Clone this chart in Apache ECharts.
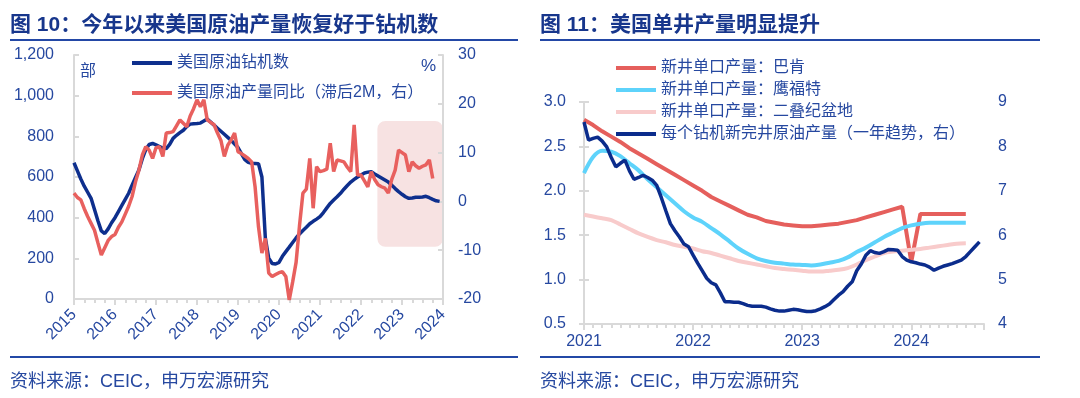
<!DOCTYPE html>
<html>
<head>
<meta charset="utf-8">
<script src="https://cdn.jsdelivr.net/npm/echarts@6/dist/echarts.min.js"></script>
<style>
  html, body { margin: 0; padding: 0; background: #fff; }
  #main { width: 1080px; height: 398px; }
</style>
</head>
<body>
<div id="main"></div>
<script>
// ---- 图10 数据（月度，2015-01 起） ----
var rigStartYear = 2015;
var rigCount = [
  670, 630, 590, 555, 525, 495, 440, 385, 335, 322, 345, 375,
  400, 430, 460, 490, 520, 560, 598, 635, 690, 735, 760, 765,
  758, 750, 742, 740, 760, 790, 805, 818, 830, 848, 860, 862,
  863, 865, 875, 885, 870, 855, 840, 825, 810, 795, 780, 762,
  745, 715, 685, 672, 667, 666, 665, 600, 300, 200, 175, 172,
  180, 210, 233, 255, 278, 300, 320, 337, 353, 370, 382, 393,
  405, 425, 448, 470, 487, 503, 520, 540, 558, 575, 588, 600,
  610, 620, 624, 626, 615, 605, 595, 585, 575, 560, 543, 528,
  515, 503, 495, 497, 500, 500, 502, 505, 498, 490, 483, 480
];
var outputYoY = [
  1.7, 0.8, 0.3, -1.5, -3.1, -4.5, -5.9, -8.5, -11.0, -9.5, -8.0, -7.2,
  -6.8, -5.3, -4.2, -2.6, -1.0, 1.0, 4.0, 6.4, 9.5, 11.2, 10.5, 8.8,
  11.0, 11.2, 9.2, 14.0, 14.1, 14.3, 15.5, 16.7, 16.0, 15.3, 17.5, 19.0,
  20.8, 19.4, 20.8, 16.7, 16.2, 15.7, 14.0, 12.5, 9.2, 11.5, 12.6, 14.0,
  10.2, 9.8, 9.3, 8.8, 8.1, 3.0, -5.2, -10.6, -7.6, -14.7, -15.4, -15.0,
  -14.6, -14.4, -15.4, -20.2, -16.5, -12.5, -5.0, 1.7, 2.5, 8.8, -1.4, 7.1,
  6.1, 6.3, 6.6, 11.9, 6.1, 8.5, 8.3, 8.1, 7.0, 6.1, 15.7, 5.4,
  5.4, 4.2, 3.0, 6.1, 4.5, 3.4, 3.0, 2.7, 1.7, 4.5, 6.4, 10.5,
  10.0, 9.5, 6.1, 8.1, 7.3, 6.8, 7.2, 7.5, 8.5, 4.7
];
var shadeMonths = [88.8, 108];   // 阴影框（月序）
var shadePct = [16.5, -9.3];     // 阴影框（右轴 %）

// ---- 图11 数据（月度，2021-01 起） ----
var wellStartYear = 2021;
var bakken = [
  2.80, 2.74, 2.67, 2.61, 2.55, 2.48, 2.42, 2.36, 2.30, 2.24, 2.18, 2.12,
  2.06, 2.00, 1.93, 1.88, 1.83, 1.78, 1.73, 1.70, 1.66, 1.64, 1.62, 1.61,
  1.60, 1.60, 1.61, 1.62, 1.63, 1.65, 1.67, 1.70, 1.73, 1.76, 1.79, 1.82,
  1.20, 1.74, 1.74, 1.74, 1.74, 1.74, 1.74
];
var eagleFord = [
  2.20, 2.38, 2.45, 2.44, 2.39, 2.31, 2.23, 2.13, 2.04, 1.95, 1.86, 1.77,
  1.70, 1.65, 1.58, 1.51, 1.43, 1.35, 1.29, 1.24, 1.21, 1.19, 1.18, 1.17,
  1.165, 1.16, 1.17, 1.19, 1.21, 1.25, 1.31, 1.36, 1.42, 1.48, 1.53, 1.58,
  1.61, 1.63, 1.64, 1.64, 1.64, 1.64, 1.64
];
var permian = [
  1.73, 1.71, 1.69, 1.67, 1.62, 1.57, 1.52, 1.48, 1.445, 1.42, 1.39, 1.37,
  1.35, 1.32, 1.30, 1.27, 1.24, 1.21, 1.19, 1.17, 1.15, 1.13, 1.12, 1.11,
  1.10, 1.09, 1.09, 1.10, 1.11, 1.13, 1.17, 1.22, 1.26, 1.30, 1.315, 1.325,
  1.335, 1.345, 1.36, 1.375, 1.39, 1.405, 1.41
];
// 每个钻机新完井原油产量：半月一点
var perRigHalfMonth = [
  8.55, 8.14, 8.18, 8.21, 8.12, 7.99, 7.75, 7.54, 7.62, 7.69, 7.45, 7.26,
  7.30, 7.35, 7.30, 7.24, 7.12, 6.85, 6.55, 6.26, 6.10, 5.96, 5.80, 5.74,
  5.55, 5.37, 5.20, 5.03, 4.93, 4.88, 4.70, 4.50, 4.50, 4.49, 4.49, 4.46,
  4.42, 4.40, 4.40, 4.40, 4.38, 4.34, 4.31, 4.29, 4.29, 4.31, 4.33, 4.32,
  4.30, 4.28, 4.28, 4.30, 4.34, 4.39, 4.45, 4.55, 4.65, 4.73, 4.85, 4.95,
  5.20, 5.35, 5.55, 5.65, 5.61, 5.59, 5.63, 5.68, 5.67, 5.66, 5.52, 5.44,
  5.40, 5.38, 5.35, 5.33, 5.28, 5.21, 5.26, 5.30, 5.33, 5.36, 5.40, 5.44,
  5.52, 5.63, 5.74, 5.85
];

// 颜色
var titleColor = '#17368c';
var textColor = '#2648a0';
var ruleColor = '#2348a6';
var axisGrey = '#d9d9d9';
var cnFont = '"Liberation Sans", "Noto Sans CJK SC", sans-serif';

function pairs(arr, step) {
  return arr.map(function (v, i) { return [i * step, v]; });
}

var chart = echarts.init(document.getElementById('main'));

var labelStyle = { color: textColor, fontSize: 16, fontFamily: cnFont };

var option = {
  backgroundColor: '#fff',
  animation: false,
  grid: [
    { left: 74, right: 637, top: 55, bottom: 99 },
    { left: 584, right: 96, top: 102, bottom: 74 }
  ],
  xAxis: [{
    type: 'value', gridIndex: 0, min: 0, max: 108, interval: 12,
    axisLine: { lineStyle: { color: axisGrey, width: 2 } },
    axisTick: { length: 6, lineStyle: { color: axisGrey, width: 2 } },
    minorTick: { show: true, splitNumber: 4, length: 4, lineStyle: { color: axisGrey, width: 2 } },
    splitLine: { show: false },
    axisLabel: {
      rotate: 45, margin: 13, color: textColor, fontSize: 16, fontFamily: cnFont,
      formatter: function (v) { return v % 12 === 0 ? String(rigStartYear + v / 12) : ''; }
    }
  }, {
    type: 'value', gridIndex: 1, min: 0, max: 44, interval: 12,
    axisLine: { lineStyle: { color: axisGrey, width: 2 } },
    axisTick: { length: 6, lineStyle: { color: axisGrey, width: 2 } },
    splitLine: { show: false },
    axisLabel: {
      margin: 10, color: textColor, fontSize: 16, fontFamily: cnFont,
      formatter: function (v) { return v % 12 === 0 ? String(wellStartYear + v / 12) : ''; }
    }
  }, {
    // 月度小刻度
    type: 'value', gridIndex: 1, position: 'bottom', min: 0, max: 44, interval: 1,
    axisLine: { show: false },
    axisTick: { length: 4, lineStyle: { color: axisGrey, width: 2 } },
    axisLabel: { show: false },
    splitLine: { show: false }
  }],
  yAxis: [{
    type: 'value', gridIndex: 0, min: 0, max: 1200, interval: 200,
    axisLine: { show: true, lineStyle: { color: axisGrey, width: 2 } },
    axisTick: { show: true, inside: true, length: 5, lineStyle: { color: axisGrey, width: 2 } },
    splitLine: { show: false },
    axisLabel: Object.assign({ margin: 20, formatter: function (v) { return v.toLocaleString('en-US'); } }, labelStyle)
  }, {
    type: 'value', gridIndex: 0, position: 'right', min: -20, max: 30, interval: 10,
    axisLine: { show: true, lineStyle: { color: axisGrey, width: 2 } },
    axisTick: { show: true, inside: true, length: 5, lineStyle: { color: axisGrey, width: 2 } },
    splitLine: { show: false },
    axisLabel: Object.assign({ margin: 15 }, labelStyle)
  }, {
    type: 'value', gridIndex: 1, min: 0.5, max: 3, interval: 0.5,
    axisLine: { show: true, lineStyle: { color: axisGrey, width: 2 } },
    axisTick: { show: true, inside: true, length: 5, lineStyle: { color: axisGrey, width: 2 } },
    splitLine: { show: false },
    axisLabel: Object.assign({ margin: 18, formatter: function (v) { return v.toFixed(1); } }, labelStyle)
  }, {
    type: 'value', gridIndex: 1, position: 'right', min: 4, max: 9, interval: 1,
    axisLine: { show: true, lineStyle: { color: axisGrey, width: 2 } },
    axisTick: { show: true, inside: true, length: 5, lineStyle: { color: axisGrey, width: 2 } },
    splitLine: { show: false },
    axisLabel: Object.assign({ margin: 14 }, labelStyle)
  }],
  legend: [{
    orient: 'vertical', left: 127, top: 50, itemWidth: 40, itemHeight: 4, itemGap: 14,
    icon: 'rect',
    textStyle: { color: textColor, fontSize: 16, fontFamily: cnFont },
    data: ['美国原油钻机数', '美国原油产量同比（滞后2M，右）']
  }, {
    orient: 'vertical', left: 611, top: 55, itemWidth: 40, itemHeight: 4, itemGap: 6,
    icon: 'rect',
    textStyle: { color: textColor, fontSize: 16, fontFamily: cnFont },
    data: ['新井单口产量：巴肯', '新井单口产量：鹰福特', '新井单口产量：二叠纪盆地', '每个钻机新完井原油产量（一年趋势，右）']
  }],
  graphic: [
    { id: 'shade', type: 'rect', z: 0, shape: { x: 0, y: 0, width: 0, height: 0, r: 8 }, style: { fill: '#f7e2e2' } },
    { type: 'text', style: { x: 10, y: 25, text: '图 10：今年以来美国原油产量恢复好于钻机数', font: 'bold 21px ' + cnFont, fill: titleColor, textVerticalAlign: 'middle' } },
    { type: 'text', style: { x: 540, y: 25, text: '图 11：美国单井产量明显提升', font: 'bold 21px ' + cnFont, fill: titleColor, textVerticalAlign: 'middle' } },
    { type: 'line', shape: { x1: 10, y1: 40, x2: 518, y2: 40 }, style: { stroke: ruleColor, lineWidth: 2 } },
    { type: 'line', shape: { x1: 540, y1: 40, x2: 1040, y2: 40 }, style: { stroke: ruleColor, lineWidth: 2 } },
    { type: 'line', shape: { x1: 10, y1: 357, x2: 518, y2: 357 }, style: { stroke: ruleColor, lineWidth: 2 } },
    { type: 'line', shape: { x1: 540, y1: 357, x2: 1040, y2: 357 }, style: { stroke: ruleColor, lineWidth: 2 } },
    { type: 'text', style: { x: 10, y: 382, text: '资料来源：CEIC，申万宏源研究', font: '18px ' + cnFont, fill: textColor, textVerticalAlign: 'middle' } },
    { type: 'text', style: { x: 540, y: 382, text: '资料来源：CEIC，申万宏源研究', font: '18px ' + cnFont, fill: textColor, textVerticalAlign: 'middle' } },
    { type: 'text', style: { x: 80, y: 72, text: '部', font: '16px ' + cnFont, fill: textColor, textVerticalAlign: 'middle' } },
    { type: 'text', style: { x: 421, y: 66, text: '%', font: '17px ' + cnFont, fill: textColor, textVerticalAlign: 'middle' } }
  ],
  series: [{
    name: '美国原油钻机数', type: 'line', xAxisIndex: 0, yAxisIndex: 0,
    symbol: 'none', color: '#0e2f8d', lineStyle: { width: 3.5 }, z: 3,
    data: pairs(rigCount, 1)
  }, {
    name: '美国原油产量同比（滞后2M，右）', type: 'line', xAxisIndex: 0, yAxisIndex: 1,
    symbol: 'none', color: '#e8605e', lineStyle: { width: 3.5 }, z: 4,
    data: pairs(outputYoY, 1)
  }, {
    name: '新井单口产量：巴肯', type: 'line', xAxisIndex: 1, yAxisIndex: 2,
    symbol: 'none', color: '#e55f5c', lineStyle: { width: 4 },
    data: pairs(bakken, 1)
  }, {
    name: '新井单口产量：鹰福特', type: 'line', xAxisIndex: 1, yAxisIndex: 2,
    symbol: 'none', color: '#5ed3fb', lineStyle: { width: 4 }, smooth: 0.3,
    data: pairs(eagleFord, 1)
  }, {
    name: '新井单口产量：二叠纪盆地', type: 'line', xAxisIndex: 1, yAxisIndex: 2,
    symbol: 'none', color: '#f8cbcb', lineStyle: { width: 4 }, smooth: 0.3,
    data: pairs(permian, 1)
  }, {
    name: '每个钻机新完井原油产量（一年趋势，右）', type: 'line', xAxisIndex: 1, yAxisIndex: 3,
    symbol: 'none', color: '#0b2c8c', lineStyle: { width: 3.5 }, z: 4,
    data: pairs(perRigHalfMonth, 0.5)
  }]
};

chart.setOption(option);

// 阴影框按坐标轴换算位置
var sx0 = chart.convertToPixel({ xAxisIndex: 0 }, shadeMonths[0]);
var sx1 = chart.convertToPixel({ xAxisIndex: 0 }, shadeMonths[1]);
var sy0 = chart.convertToPixel({ yAxisIndex: 1 }, shadePct[0]);
var sy1 = chart.convertToPixel({ yAxisIndex: 1 }, shadePct[1]);
chart.setOption({
  graphic: [{ id: 'shade', shape: { x: sx0, y: sy0, width: sx1 - sx0, height: sy1 - sy0, r: 8 } }]
});
</script>
</body>
</html>
